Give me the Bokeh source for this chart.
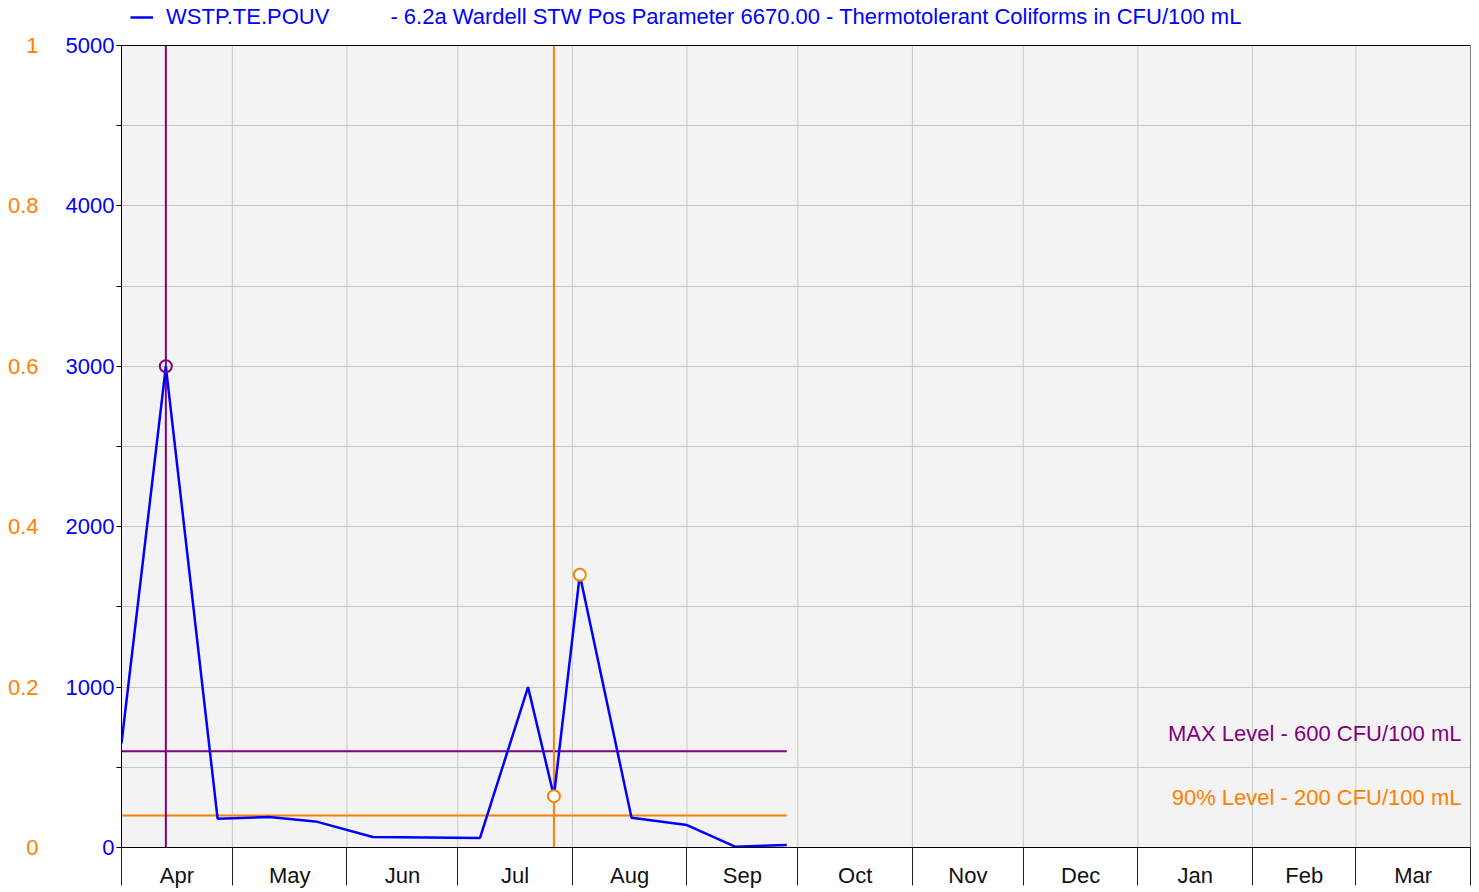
import pandas as pd
from bokeh.plotting import figure
from bokeh.models import (Range1d, LinearAxis, FixedTicker, Label, Legend, LegendItem)
from bokeh.embed import file_html
from bokeh.resources import INLINE

# ---------------- data ----------------
months = ["Apr", "May", "Jun", "Jul", "Aug", "Sep", "Oct", "Nov", "Dec", "Jan", "Feb", "Mar"]
month_starts = ["2022-04-01", "2022-05-01", "2022-06-01", "2022-07-01", "2022-08-01", "2022-09-01",
                "2022-10-01", "2022-11-01", "2022-12-01", "2023-01-01", "2023-02-01", "2023-03-01",
                "2023-04-01"]
sample_dates = ["2022-04-01", "2022-04-13", "2022-04-27", "2022-05-11", "2022-05-24", "2022-06-08",
                "2022-07-07", "2022-07-20", "2022-07-27", "2022-08-03", "2022-08-17", "2022-09-01",
                "2022-09-14", "2022-09-28"]
sample_values = [650, 3000, 180, 190, 160, 65, 60, 1000, 320, 1700, 185, 140, 5, 15]
max_level = 600
pct90_level = 200
max_exceed_dates = ["2022-04-13"]
max_exceed_values = [3000]
pct_exceed_dates = ["2022-07-27", "2022-08-03"]
pct_exceed_values = [320, 1700]
y_min, y_max = 0, 5000
left_ticks = [0, 500, 1000, 1500, 2000, 2500, 3000, 3500, 4000, 4500, 5000]
pct_ticks = [0, 0.2, 0.4, 0.6, 0.8, 1]
pct_labels = ["0", "0.2", "0.4", "0.6", "0.8", "1"]
series_name = "WSTP.TE.POUV"
series_desc = "- 6.2a Wardell STW Pos Parameter 6670.00 - Thermotolerant Coliforms in CFU/100 mL"
max_text = "MAX Level - 600 CFU/100 mL"
pct_text = "90% Level - 200 CFU/100 mL"

# ---------------- helpers ----------------
origin = pd.Timestamp(month_starts[0])
def days(ds):
    return [float((pd.Timestamp(d) - origin).days) for d in ds]

bounds = days(month_starts)
mids = [(a + b) / 2 for a, b in zip(bounds[:-1], bounds[1:])]
xs = days(sample_dates)

BLUE = "#0000ff"
PURPLE = "#800080"
ORANGE = "#ff7f00"
GRID = "#c8c8c8"
FONT = "Liberation Sans"
FS = "22px"

# plot area is 802 px tall; 45 px of headroom above it hold the legend row
TOP_PX, AREA_PX = 45, 802
headroom = (AREA_PX + TOP_PX) / AREA_PX

p = figure(width=1471, height=890, output_backend="svg", toolbar_location=None,
           x_range=Range1d(bounds[0], bounds[-1]), y_range=Range1d(y_min, y_max * headroom),
           min_border_left=121, min_border_right=1, min_border_top=0, min_border_bottom=0)
p.background_fill_color = "white"
p.border_fill_color = "white"
p.outline_line_color = None

# plot-area background
bg = p.quad(left=[bounds[0]], right=[bounds[-1]], bottom=[y_min], top=[y_max],
            fill_color="#f3f3f3", line_color=None)
bg.level = "image"

# x axis
xa = p.xaxis[0]
xa.ticker = FixedTicker(ticks=mids, minor_ticks=bounds)
xa.major_label_overrides = {m: name for m, name in zip(mids, months)}
xa.major_tick_out = 0
xa.major_tick_in = 0
xa.minor_tick_out = 38
xa.minor_tick_in = 0
xa.minor_tick_line_color = "#222222"
xa.minor_tick_line_width = 1
xa.axis_line_color = "black"
xa.major_label_text_font = FONT
xa.major_label_text_font_size = FS
xa.major_label_text_color = "#111111"
xa.major_label_standoff = -23

p.xgrid.visible = False
p.ygrid.grid_line_color = GRID
p.segment(x0=bounds[1:-1], y0=[y_min] * (len(bounds) - 2), x1=bounds[1:-1],
          y1=[y_max] * (len(bounds) - 2), line_color=GRID, line_width=1)

# left value axis
ya = p.yaxis[0]
ya.ticker = FixedTicker(ticks=left_ticks)
ya.bounds = (y_min, y_max)
ya.major_label_overrides = {t: (str(t) if t % 1000 == 0 else "") for t in left_ticks}
ya.major_tick_out = 5
ya.major_tick_in = 0
ya.minor_tick_out = 0
ya.minor_tick_in = 0
ya.axis_line_color = "black"
ya.major_label_text_font = FONT
ya.major_label_text_font_size = FS
ya.major_label_text_color = BLUE
ya.major_label_standoff = 2

# fraction axis
p.extra_y_ranges = {"pct": Range1d(0, 1 * headroom)}
pa = LinearAxis(y_range_name="pct", ticker=FixedTicker(ticks=pct_ticks), bounds=(0, 1))
pa.major_label_overrides = {t: l for t, l in zip(pct_ticks, pct_labels)}
pa.axis_line_color = None
pa.major_tick_line_color = None
pa.minor_tick_line_color = None
pa.major_label_text_font = FONT
pa.major_label_text_font_size = FS
pa.major_label_text_color = ORANGE
pa.major_label_standoff = 18
p.add_layout(pa, "left")

# limit lines
p.segment(x0=[bounds[0]], y0=[max_level], x1=[xs[-1]], y1=[max_level], line_color=PURPLE, line_width=2)
p.segment(x0=[bounds[0]], y0=[pct90_level], x1=[xs[-1]], y1=[pct90_level], line_color=ORANGE, line_width=2)
mx = days(max_exceed_dates)
p.segment(x0=mx, y0=[y_min] * len(mx), x1=mx, y1=[y_max] * len(mx), line_color=PURPLE, line_width=2)
px_ = days(pct_exceed_dates)[:1]
p.segment(x0=px_, y0=[y_min], x1=px_, y1=[y_max], line_color=ORANGE, line_width=2)

# series
r = p.line(xs, sample_values, line_color=BLUE, line_width=2.5)
p.scatter(mx, max_exceed_values, size=12, fill_color=None, line_color=PURPLE, line_width=2)
p.scatter(days(pct_exceed_dates), pct_exceed_values, size=12, fill_color="white",
          line_color=ORANGE, line_width=2)
r_blank = p.line([], [], line_alpha=0)

# plot-area outline
p.quad(left=[bounds[0]], right=[bounds[-1]], bottom=[y_min], top=[y_max],
       fill_color=None, line_color="black", line_width=1)

# legend (top row)
legend = Legend(items=[LegendItem(label=series_name, renderers=[r]),
                       LegendItem(label=series_desc, renderers=[r_blank])],
                orientation="horizontal", location=(9, 817), glyph_width=23, glyph_height=20,
                label_standoff=13, spacing=25, padding=0, margin=0,
                border_line_color=None, background_fill_alpha=0,
                label_text_font=FONT, label_text_font_size=FS, label_text_color=BLUE)
p.add_layout(legend, "center")

# level texts
p.add_layout(Label(x=bounds[-1], y=max_level, x_offset=-9, y_offset=18, text=max_text,
                   text_align="right", text_baseline="middle", text_font=FONT,
                   text_font_size=FS, text_color=PURPLE))
p.add_layout(Label(x=bounds[-1], y=pct90_level, x_offset=-9, y_offset=18, text=pct_text,
                   text_align="right", text_baseline="middle", text_font=FONT,
                   text_font_size=FS, text_color=ORANGE))

open("out.html", "w").write(file_html(p, INLINE))
